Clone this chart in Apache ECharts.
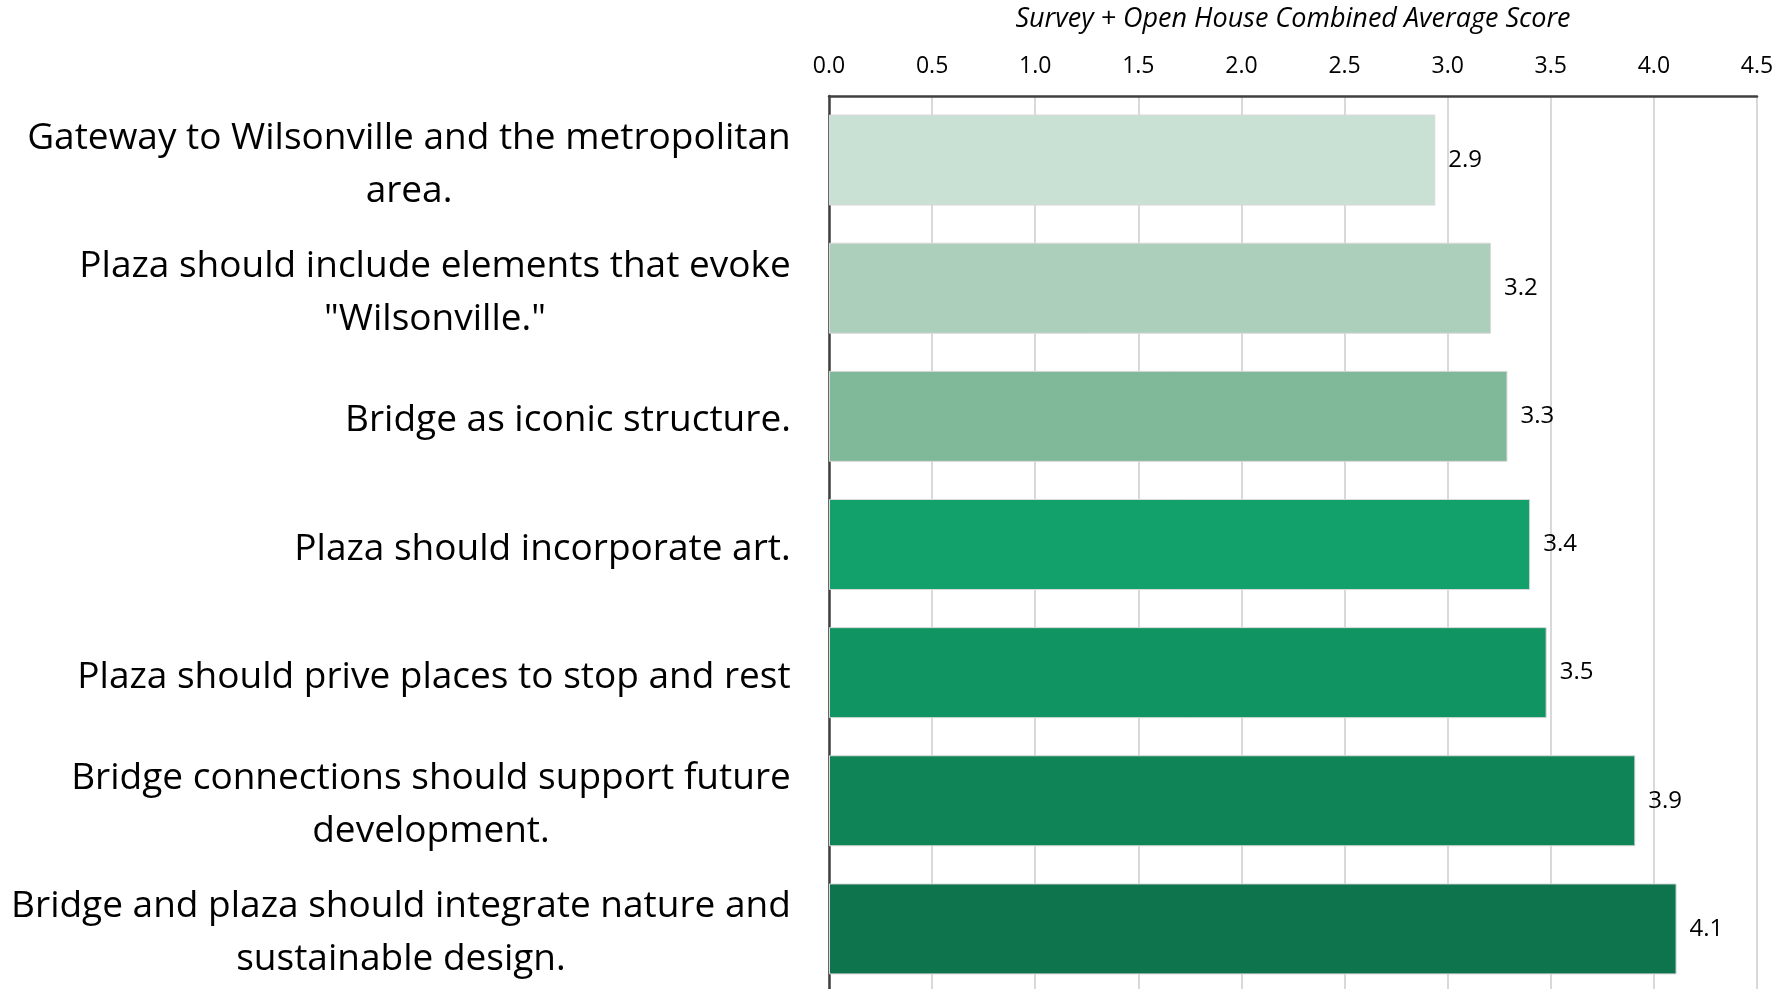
<!DOCTYPE html>
<html>
<head>
<meta charset="utf-8">
<script src="https://cdn.jsdelivr.net/npm/echarts@6/dist/echarts.min.js"></script>
<style>
html,body{margin:0;padding:0;background:#fff;}
#c{width:1786px;height:989px;}
</style>
</head>
<body>
<div id="c"></div>
<script>
const categories = [
  'Gateway to Wilsonville and the metropolitan\narea.',
  'Plaza should include elements that evoke\n"Wilsonville."',
  'Bridge as iconic structure.',
  'Plaza should incorporate art.',
  'Plaza should prive places to stop and rest',
  'Bridge connections should support future\ndevelopment.',
  'Bridge and plaza should integrate nature and\nsustainable design.'
];
const scores = [2.94, 3.21, 3.29, 3.40, 3.48, 3.91, 4.11];
const barColors = ['#C9E0D5', '#ABCFBA', '#80B89A', '#12A06B', '#0F9462', '#0F8457', '#0E744E'];
const axisTitle = 'Survey + Open House Combined Average Score';

const FONT = '"Open Sans"';
const CAT_SIZE = 37;

// measure line widths so multi-line labels are centred within their block
const ctx = document.createElement('canvas').getContext('2d');
ctx.font = CAT_SIZE + 'px ' + FONT;
const rich = {};
const formatted = {};
categories.forEach((c, i) => {
  const lines = c.split('\n');
  const w = Math.ceil(Math.max(...lines.map(l => ctx.measureText(l).width))) + 2;
  rich['c' + i] = {width: w, align: 'center', fontFamily: FONT, fontSize: CAT_SIZE, lineHeight: 53, color: '#000'};
  formatted[c] = lines.map(l => '{c' + i + '|' + l + '}').join('\n');
});

const chart = echarts.init(document.getElementById('c'));
chart.setOption({
  animation: false,
  backgroundColor: '#fff',
  grid: {left: 829, top: 96, width: 928, height: 897, containLabel: false, outerBoundsMode: 'none'},
  xAxis: {
    type: 'value', position: 'top', min: 0, max: 4.5, interval: 0.5,
    name: axisTitle, nameLocation: 'middle', nameGap: 63,
    nameTextStyle: {fontFamily: FONT, fontSize: 27, fontStyle: 'italic', color: '#000'},
    axisLine: {show: true, lineStyle: {color: '#404040', width: 2.5}},
    axisTick: {show: false},
    axisLabel: {margin: 18, fontFamily: FONT, fontSize: 23, color: '#000', formatter: v => v.toFixed(1)},
    splitLine: {show: true, lineStyle: {color: '#D9D9D9', width: 2}}
  },
  yAxis: {
    type: 'category', data: categories, inverse: true,
    axisLine: {show: true, lineStyle: {color: '#404040', width: 2.5}},
    axisTick: {show: false},
    axisLabel: {margin: 37, align: 'right', padding: [9, 0, 0, 0], formatter: v => formatted[v], rich: rich, lineHeight: 53}
  },
  series: [{
    type: 'bar', data: scores, barCategoryGap: '29%',
    itemStyle: {color: p => barColors[p.dataIndex], borderColor: '#D9D9D9', borderWidth: 1},
    label: {show: true, position: 'right', distance: 13, fontFamily: FONT, fontSize: 24, color: '#000',
      formatter: p => p.value.toFixed(1)}
  }]
});
</script>
</body>
</html>
